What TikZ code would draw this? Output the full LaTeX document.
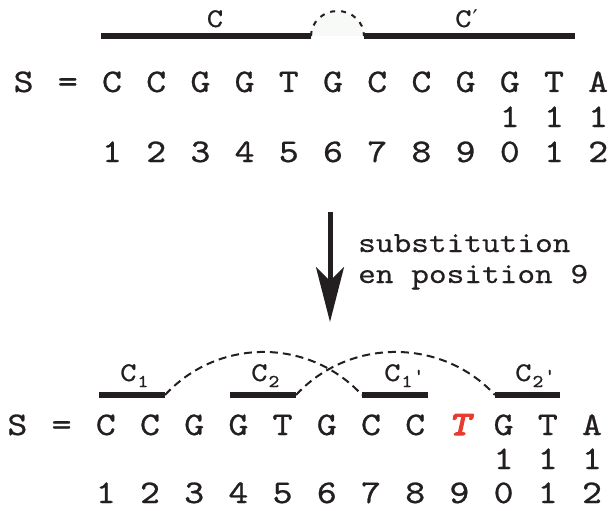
\documentclass[tikz,border=0pt]{standalone}
\usepackage{fontspec}
\setmonofont{lmmono10-regular.otf}[FakeStretch=1.15, FakeBold=0.8]
\newfontfamily\notefont{lmmono10-regular.otf}[FakeStretch=1.15, FakeBold=0.3]
\newfontfamily\mutfont{lmmono10-regular.otf}[FakeStretch=1.2, FakeBold=4, FakeSlant=0.22]
\newfontfamily\primefont{DejaVu Sans}
\usetikzlibrary{arrows.meta}
\definecolor{ink}{HTML}{231F20}
\definecolor{mutred}{HTML}{E63B2E}
\definecolor{gapfill}{HTML}{F8FAF8}

% subscript and tick used in the small segment labels
\newcommand\lblsub[1]{\raisebox{-6pt}{\fontsize{18}{18}\selectfont\kern1pt #1}}
\newcommand\lbltick{{\fontsize{18}{18}\selectfont\kern1pt\char"0027}}

\tikzset{
  seqchar/.style={font=\ttfamily\fontsize{33}{36}\selectfont, anchor=base, inner sep=0pt, text=ink},
  mutchar/.style={font=\mutfont\fontsize{34}{36}\selectfont, anchor=base, inner sep=0pt, text=mutred},
  toplbl/.style={font=\ttfamily\fontsize{27}{28}\selectfont, inner sep=0pt, text=ink},
  seglbl/.style={font=\ttfamily\fontsize{27}{28}\selectfont, anchor=base west, inner sep=0pt, text=ink},
  note/.style={font=\notefont\fontsize{29.3}{31}\selectfont, anchor=base west, inner sep=0pt, text=ink},
  bar/.style={line width=6pt, draw=ink},
  thinbar/.style={line width=5.5pt, draw=ink},
  link/.style={line width=2pt, draw=ink, dash pattern=on 8pt off 5pt},
}

\begin{document}
\begin{tikzpicture}[x=1pt, y=-1pt]
\useasboundingbox (0,0) rectangle (610,511);

% ---------- original sequence ----------
\node[seqchar] (tS)  at (23.6,92) {S};
\node[seqchar] (tEq) at (67.8,92) {=};
\foreach \c [count=\i] in {C,C,G,G,T,G,C,C,G,G,T,A}
  \node[seqchar] (t\i) at ({112+44.2*(\i-1)},92) {\c};
\foreach \i in {10,11,12}
  \node[seqchar] (tt\i) at ({112+44.2*(\i-1)},127) {1};
\foreach \d [count=\i] in {1,2,3,4,5,6,7,8,9,0,1,2}
  \node[seqchar] (tu\i) at ({112+44.2*(\i-1)},162) {\d};

% segments C and C' with the joining gap
\coordinate (cL)  at (101,36);
\coordinate (cR)  at (311,36);
\coordinate (gapTop) at (337.5,11);
\coordinate (cpL) at (364,36);
\coordinate (cpR) at (575,36);
\fill[gapfill] (cR) .. controls +(0,-13.8) and +(-14.6,0) .. (gapTop)
  .. controls +(14.6,0) and +(0,-13.8) .. (cpL) -- cycle;
\draw[link, dash pattern=on 5pt off 6pt] (cR) .. controls +(0,-13.8) and +(-14.6,0) .. (gapTop)
  .. controls +(14.6,0) and +(0,-13.8) .. (cpL);
\draw[bar] (cL) -- (cR);
\draw[bar] (cpL) -- (cpR);
\node[toplbl, anchor=base] (lc) at (215,27) {C};
\node[toplbl, anchor=base west] (lcp) at (455,27) {C{\primefont\fontsize{23}{24}\selectfont\kern1pt ′}};

% ---------- substitution arrow ----------
\coordinate (arrtop) at (330,212);
\coordinate (arrtip) at (330,322);
\draw[line width=5pt, draw=ink, -{Stealth[length=55pt,width=28pt,inset=14pt]}] (arrtop) -- (arrtip);
\node[note] (n1) at (358,252) {substitution};
\node[note] (n2) at (358,283) {en position 9};

% ---------- mutated sequence ----------
\node[seqchar] (bS)  at (17.4,435) {S};
\node[seqchar] (bEq) at (61.6,435) {=};
\foreach \i/\c in {1/C,2/C,3/G,4/G,5/T,6/G,7/C,8/C,10/G,11/T,12/A}
  \node[seqchar] (b\i) at ({105.8+44.2*(\i-1)},435) {\c};
\node[mutchar] (b9) at ({105.8+44.2*8},435) {T};
\foreach \i in {10,11,12}
  \node[seqchar] (bt\i) at ({105.8+44.2*(\i-1)},469) {1};
\foreach \d [count=\i] in {1,2,3,4,5,6,7,8,9,0,1,2}
  \node[seqchar] (bu\i) at ({105.8+44.2*(\i-1)},503) {\d};

% repeated segments and their pairing
\coordinate (c1L)  at (99,395);
\coordinate (c1R)  at (165,395);
\coordinate (c2L)  at (230,395);
\coordinate (c2R)  at (296,395);
\coordinate (c1pL) at (362,395);
\coordinate (c1pR) at (428,395);
\coordinate (c2pL) at (495,395);
\coordinate (c2pR) at (560,395);
\draw[link] (c1R) .. controls +(53.1,-57.4) and +(-53.1,-57.4) .. (c1pL);
\draw[link] (c2R) .. controls +(53.1,-57.4) and +(-53.1,-57.4) .. (c2pL);
\draw[thinbar] (c1L) -- (c1R);
\draw[thinbar] (c2L) -- (c2R);
\draw[thinbar] (c1pL) -- (c1pR);
\draw[thinbar] (c2pL) -- (c2pR);
\node[seglbl] (l1)  at (120,381) {C\lblsub{1}};
\node[seglbl] (l2)  at (251,381) {C\lblsub{2}};
\node[seglbl] (l1p) at (384,381) {C\lblsub{1}\lbltick};
\node[seglbl] (l2p) at (515,381) {C\lblsub{2}\lbltick};
\end{tikzpicture}
\end{document}
